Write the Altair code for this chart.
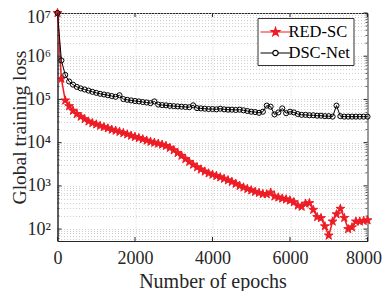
import altair as alt
import pandas as pd

# ---------------- data ----------------
epochs = list(range(0, 8001, 100))

red_sc = [
    1e7, 3.0e5, 9.5e4, 7.0e4, 5.5e4, 4.6e4, 4.0e4, 3.5e4, 3.1e4, 2.85e4,
    2.65e4, 2.45e4, 2.3e4, 2.15e4, 2.0e4, 1.9e4, 1.78e4, 1.67e4, 1.56e4, 1.45e4,
    1.36e4, 1.28e4, 1.2e4, 1.12e4, 1.05e4, 1.0e4, 9.5e3, 9.0e3, 8.4e3, 7.6e3,
    6.7e3, 5.8e3, 5.0e3, 4.2e3, 3.6e3, 3.1e3, 2.7e3, 2.4e3, 2.15e3, 1.95e3,
    1.82e3, 1.7e3, 1.58e3, 1.46e3, 1.35e3, 1.24e3, 1.12e3, 1.0e3, 920, 850,
    790, 730, 690, 650, 640, 700, 570, 540, 510, 490,
    460, 420, 350, 330, 390, 400, 280, 190, 180, 116,
    71, 150, 220, 295, 182, 100, 110, 150, 150, 155,
    160,
]

dsc_net = [
    1e7, 8.0e5, 3.7e5, 2.6e5, 2.2e5, 1.95e5, 1.8e5, 1.7e5, 1.6e5, 1.5e5,
    1.42e5, 1.35e5, 1.3e5, 1.25e5, 1.2e5, 1.15e5, 1.25e5, 1.02e5, 9.8e4, 9.5e4,
    9.2e4, 9.0e4, 8.7e4, 8.5e4, 8.2e4, 9.0e4, 7.6e4, 7.4e4, 7.3e4, 7.1e4,
    7.0e4, 6.9e4, 6.8e4, 6.7e4, 6.6e4, 7.3e4, 6.3e4, 6.2e4, 6.1e4, 6.0e4,
    6.0e4, 5.9e4, 6.1e4, 5.9e4, 5.8e4, 5.8e4, 5.7e4, 5.8e4, 5.6e4, 5.4e4,
    5.2e4, 5.1e4, 4.9e4, 5.2e4, 7.2e4, 6.8e4, 4.5e4, 5.0e4, 6.2e4, 4.8e4,
    5.2e4, 5.0e4, 4.6e4, 4.4e4, 4.4e4, 4.3e4, 4.3e4, 4.2e4, 4.2e4, 4.1e4,
    4.1e4, 4.0e4, 7.2e4, 4.1e4, 4.0e4, 4.0e4, 4.0e4, 4.0e4, 4.0e4, 4.0e4,
    4.0e4,
]

series_names = ["RED-SC", "DSC-Net"]
series_colors = ["#ee1c25", "#000000"]

x_ticks = [0, 2000, 4000, 6000, 8000]
y_major = [1e2, 1e3, 1e4, 1e5, 1e6, 1e7]
y_labels = ["10\u00b2", "10\u00b3", "10\u2074", "10\u2075", "10\u2076", "10\u2077"]
y_minor_mult = [2, 3, 4, 5, 6, 7, 8, 9]

# ---------------- tables ----------------
n = min(len(epochs), len(red_sc), len(dsc_net))
df = pd.DataFrame({
    "epoch": epochs[:n] * 2,
    "loss": red_sc[:n] + dsc_net[:n],
    "series": [series_names[0]] * n + [series_names[1]] * n,
})

y_min = 53
y_minor = [m * d for d in [10, 100, 1e3, 1e4, 1e5, 1e6] for m in y_minor_mult if y_min <= m * d <= 1e7]
y_vals = sorted(set(y_major + y_minor))

xt_df = pd.DataFrame({"v": x_ticks})
ymaj_df = pd.DataFrame({"v": y_major})
ymin_df = pd.DataFrame({"v": y_minor})

label_expr = " : ".join(
    f"datum.value == {int(v)} ? '{t}'" for v, t in zip(y_major, y_labels)
) + " : ''"

pts = [(0, -1), (0.225, -0.309), (0.951, -0.309), (0.363, 0.118), (0.588, 0.809), (0, 0.382),
       (-0.588, 0.809), (-0.363, 0.118), (-0.951, -0.309), (-0.225, -0.309)]
STAR = "M" + "L".join(f"{px:.3f},{py:.3f}" for px, py in pts) + "Z"
s = 0.45
STAR_LEG = "M-1.5,0H1.5M" + "L".join(f"{px*s:.3f},{py*s:.3f}" for px, py in pts) + "Z"
r = 0.27
CIRC_LEG = (f"M-1.5,0H{-r}M{r},0H1.5M{r},0A{r},{r} 0 1,1 {-r},0A{r},{r} 0 1,1 {r},0Z")

FONT = "Liberation Serif"
AX = "#262626"
W, H = 310, 228

xs = alt.Scale(domain=[0, 8000], nice=False, zero=False)
ys = alt.Scale(type="log", domain=[y_min, 1e7], nice=False)

is_red = "datum.series == 'RED-SC'"

legend = alt.Legend(
    title=None, orient="none", legendX=200, legendY=5, direction="vertical",
    padding=3, strokeColor="#333333", fillColor="white",
    labelFont=FONT, labelFontSize=16.5, labelColor="black",
    symbolSize=400, symbolStrokeWidth=1.2, symbolOpacity=1,
    rowPadding=1, labelOffset=2, symbolOffset=4,
)

bottom_axis = alt.Axis(
    values=x_ticks, format="d", title="Number of epochs", grid=True, ticks=False,
    gridDash=[1, 2], gridColor="#c4c4c4", gridWidth=0.8,
    domainColor=AX, labelPadding=8, labelFlush=False,
    labelOffset={"condition": {"test": "datum.value == 8000", "value": -4}, "value": 0},
    labelFont=FONT, labelFontSize=18, labelColor=AX,
    titleFont=FONT, titleFontSize=20, titleFontWeight="normal", titleColor=AX,
    titleX=155, titleY=40, titleBaseline="middle",
)
left_axis = alt.Axis(
    values=y_vals, labelExpr=label_expr, title="Global training loss", grid=True, ticks=False,
    gridDash=[1, 2], gridColor="#c4c4c4", gridWidth=0.8,
    domainColor=AX, labelPadding=7, labelFlush=False,
    labelOffset={"condition": {"test": "datum.value == 10000000", "value": 4}, "value": 0},
    labelFont=FONT, labelFontSize=18, labelColor=AX, labelBound=False, labelOverlap=False,
    titleFont=FONT, titleFontSize=19.5, titleFontWeight="normal", titleColor=AX,
    titleX=-38, titleY=114, titleBaseline="middle", titleAngle=-90,
)

color = alt.Color("series:N", scale=alt.Scale(domain=series_names, range=series_colors), legend=None)

base = alt.Chart(df)

lines = base.mark_line().encode(
    x=alt.X("epoch:Q", scale=xs, axis=bottom_axis),
    y=alt.Y("loss:Q", scale=ys, axis=left_axis),
    color=color,
    strokeWidth=alt.condition(is_red, alt.value(1.5), alt.value(1.0)),
)

points = base.mark_point(opacity=1).encode(
    x=alt.X("epoch:Q", scale=xs, axis=None),
    y=alt.Y("loss:Q", scale=ys, axis=None),
    color=color,
    shape=alt.condition(is_red, alt.value(STAR), alt.value("circle")),
    fill=alt.condition(is_red, alt.value("#ee1c25"), alt.value("transparent")),
    size=alt.condition(is_red, alt.value(85), alt.value(26)),
    strokeWidth=alt.value(1),
)

leg_layer = base.transform_filter("false").mark_point(opacity=1).encode(
    shape=alt.Shape("series:N", scale=alt.Scale(domain=series_names, range=[STAR_LEG, CIRC_LEG]), legend=legend),
    stroke=alt.Stroke("series:N", scale=alt.Scale(domain=series_names, range=series_colors), legend=legend),
    fill=alt.Fill("series:N", scale=alt.Scale(domain=series_names, range=["#ee1c25", "white"]), legend=legend),
)

# inward tick marks (MATLAB box style)
xtick_b = alt.Chart(xt_df).mark_rule(color=AX, strokeWidth=1).encode(
    x=alt.X("v:Q", scale=xs, axis=None), y=alt.value(H), y2=alt.value(H - 4))
xtick_t = alt.Chart(xt_df).mark_rule(color=AX, strokeWidth=1).encode(
    x=alt.X("v:Q", scale=xs, axis=None), y=alt.value(0), y2=alt.value(4))
ytick_l = alt.Chart(ymaj_df).mark_rule(color=AX, strokeWidth=1).encode(
    y=alt.Y("v:Q", scale=ys, axis=None), x=alt.value(0), x2=alt.value(4))
ytick_r = alt.Chart(ymaj_df).mark_rule(color=AX, strokeWidth=1).encode(
    y=alt.Y("v:Q", scale=ys, axis=None), x=alt.value(W), x2=alt.value(W - 4))
ymtick_l = alt.Chart(ymin_df).mark_rule(color=AX, strokeWidth=0.8).encode(
    y=alt.Y("v:Q", scale=ys, axis=None), x=alt.value(0), x2=alt.value(2))
ymtick_r = alt.Chart(ymin_df).mark_rule(color=AX, strokeWidth=0.8).encode(
    y=alt.Y("v:Q", scale=ys, axis=None), x=alt.value(W), x2=alt.value(W - 2))

chart = alt.layer(
    lines, points, leg_layer, xtick_b, xtick_t, ytick_l, ytick_r, ymtick_l, ymtick_r
).resolve_scale(
    shape="independent", stroke="independent", fill="independent"
).resolve_axis(
    x="independent", y="independent"
).properties(
    width=W, height=H,
    autosize=alt.AutoSizeParams(type="none"),
    padding={"left": 49.5, "top": 5, "right": 14, "bottom": 50},
).configure(font=FONT).configure_view(stroke=AX, strokeWidth=1)

chart.save("out.html", embed_options={"renderer": "svg", "actions": False})
